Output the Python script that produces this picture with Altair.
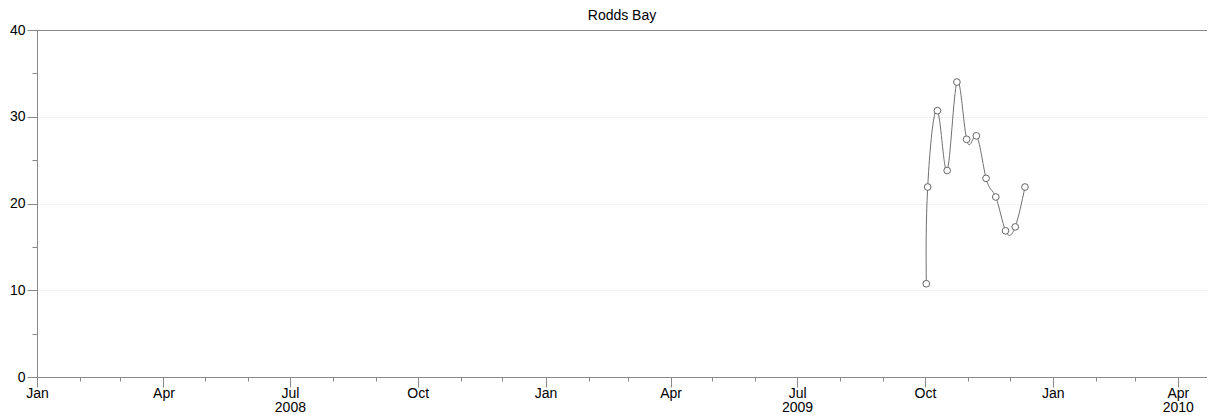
import altair as alt
import pandas as pd

dates = ["2009-10-02", "2009-10-03", "2009-10-10", "2009-10-17", "2009-10-24", "2009-10-31",
         "2009-11-07", "2009-11-14", "2009-11-21", "2009-11-28", "2009-12-05", "2009-12-12"]
values = [10.75, 21.9, 30.7, 23.8, 34.0, 27.4, 27.8, 22.9, 20.75, 16.85, 17.3, 21.9]

title = "Rodds Bay"
x_start = "2008-01-01"
x_end = "2010-04-22"
y_ticks = [0, 5, 10, 15, 20, 25, 30, 35, 40]
tick_months = [(y, m) for y in (2008, 2009, 2010) for m in range(1, 13) if not (y == 2010 and m > 4)]

df = pd.DataFrame({"date": dates, "value": values})

FONT = "Liberation Sans"
AX = "#888888"

x_vals = [alt.DateTime(year=y, month=m, date=1, utc=True) for (y, m) in tick_months]

label_expr = (
    "utcmonth(datum.value) % 3 == 0 ? "
    "((utcmonth(datum.value) == 6 || (utcyear(datum.value) == 2010 && utcmonth(datum.value) == 3)) ? "
    "[utcFormat(datum.value, '%b'), utcFormat(datum.value, '%Y')] : utcFormat(datum.value, '%b')) : ''"
)

x_enc = alt.X(
    "date:T",
    scale=alt.Scale(type="utc", domain=[x_start, x_end], nice=False),
    axis=alt.Axis(
        title=None,
        values=x_vals,
        labelExpr=label_expr,
        labelFont=FONT,
        labelFontSize=14,
        labelLineHeight=14,
        labelColor="#000",
        labelPadding=-1,
        labelOverlap=False,
        labelFlush=False,
        tickColor=AX,
        domainColor=AX,
        tickSize={"condition": {"test": "utcmonth(datum.value) % 3 == 0", "value": 10}, "value": 4},
        grid=False,
    ),
)

y_enc = alt.Y(
    "value:Q",
    scale=alt.Scale(domain=[0, 40], nice=False, zero=True),
    axis=alt.Axis(
        title=None,
        values=y_ticks,
        labelExpr="datum.value % 10 == 0 ? datum.label : ''",
        labelFont=FONT,
        labelFontSize=14,
        labelColor="#000",
        labelPadding=2,
        tickColor=AX,
        domainColor=AX,
        tickSize={"condition": {"test": "datum.value % 10 == 0", "value": 10}, "value": 5},
        grid=True,
        gridColor={"condition": {"test": "datum.value == 40", "value": AX}, "value": "#d0d0d0"},
        gridDash={"condition": {"test": "datum.value == 40", "value": []}, "value": [1, 3]},
        gridOpacity={"condition": {"test": "datum.value % 10 == 0 && datum.value > 0", "value": 1}, "value": 0},
    ),
)

base = alt.Chart(df).encode(x=x_enc, y=y_enc)

line = base.mark_line(interpolate="natural", color="#707070", strokeWidth=1)
pts = base.mark_point(filled=True, fill="white", stroke="#666666", strokeWidth=1, size=45, opacity=1)

chart = (
    (line + pts)
    .properties(
        width=1170,
        height=347,
        title=alt.TitleParams(title, font=FONT, fontSize=14, fontWeight="normal", color="#000", anchor="middle", offset=0),
        padding={"left": 1, "top": 1, "right": 0, "bottom": 0},
    )
    .configure_view(stroke=None)
)

chart.save("out.html", embed_options={"renderer": "svg", "actions": False})
